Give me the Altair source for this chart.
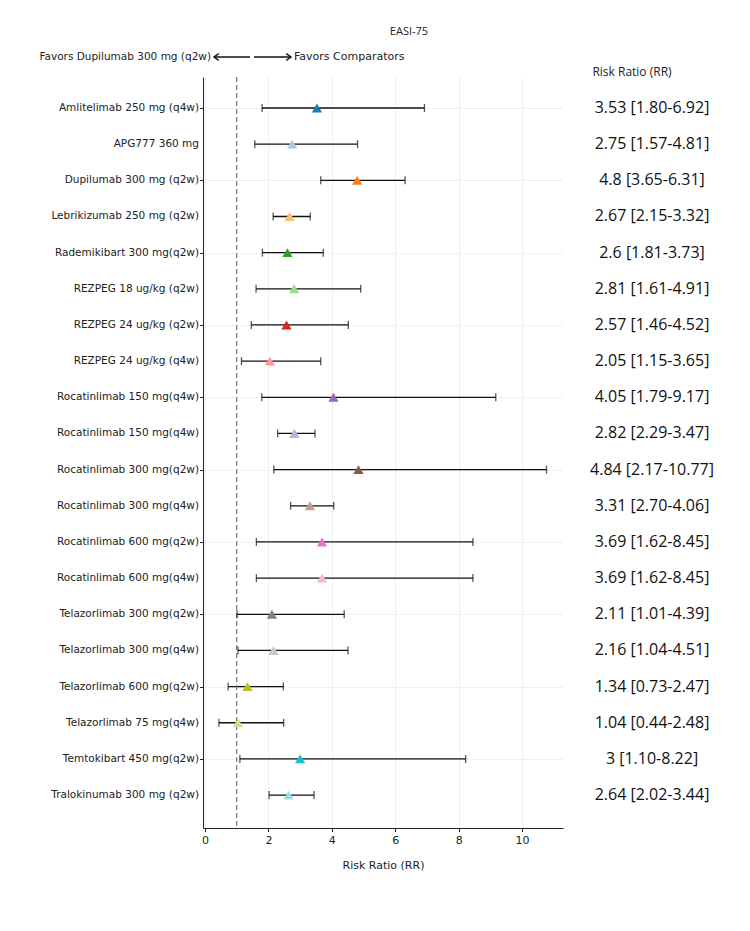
import altair as alt
import pandas as pd

# Treatments compared against Dupilumab 300 mg (q2w), EASI-75 response
treatments = [
    "Amlitelimab 250 mg (q4w)",
    "APG777 360 mg",
    "Dupilumab 300 mg (q2w)",
    "Lebrikizumab 250 mg (q2w)",
    "Rademikibart 300 mg(q2w)",
    "REZPEG 18 ug/kg (q2w)",
    "REZPEG 24 ug/kg (q2w)",
    "REZPEG 24 ug/kg  (q4w)",
    "Rocatinlimab 150 mg(q4w)",
    "Rocatinlimab 150 mg(q4w)",
    "Rocatinlimab 300 mg(q2w)",
    "Rocatinlimab 300 mg(q4w)",
    "Rocatinlimab 600 mg(q2w)",
    "Rocatinlimab 600 mg(q4w)",
    "Telazorlimab 300 mg(q2w)",
    "Telazorlimab 300 mg(q4w)",
    "Telazorlimab 600 mg(q2w)",
    "Telazorlimab 75 mg(q4w)",
    "Temtokibart 450 mg(q2w)",
    "Tralokinumab 300 mg (q2w)",
]
risk_ratio = [3.53, 2.75, 4.8, 2.67, 2.6, 2.81, 2.57, 2.05, 4.05, 2.82,
              4.84, 3.31, 3.69, 3.69, 2.11, 2.16, 1.34, 1.04, 3, 2.64]
ci_low = [1.80, 1.57, 3.65, 2.15, 1.81, 1.61, 1.46, 1.15, 1.79, 2.29,
          2.17, 2.70, 1.62, 1.62, 1.01, 1.04, 0.73, 0.44, 1.10, 2.02]
ci_high = [6.92, 4.81, 6.31, 3.32, 3.73, 4.91, 4.52, 3.65, 9.17, 3.47,
           10.77, 4.06, 8.45, 8.45, 4.39, 4.51, 2.47, 2.48, 8.22, 3.44]
marker_colors = ["#1f77b4", "#aec7e8", "#ff7f0e", "#ffbb78", "#2ca02c",
                 "#98df8a", "#d62728", "#ff9896", "#9467bd", "#c5b0d5",
                 "#8c564b", "#c49c94", "#e377c2", "#f7b6d2", "#7f7f7f",
                 "#c7c7c7", "#bcbd22", "#dbdb8d", "#17becf", "#9edae5"]
x_ticks = [0, 2, 4, 6, 8, 10]
no_effect = 1.0

W, H = 360, 751
tick_font = "DejaVu Sans"
side_font = "Open Sans"

df = pd.DataFrame({
    "idx": list(range(len(treatments))),
    "name": treatments,
    "rr": risk_ratio,
    "lo": ci_low,
    "hi": ci_high,
    "color": marker_colors,
})
df["summary"] = [f"{r:g} [{l:.2f}-{h:.2f}]" for r, l, h in zip(risk_ratio, ci_low, ci_high)]

x_scale = alt.Scale(domain=[-0.063, 11.29], nice=False, zero=False)
y_scale = alt.Scale(domain=[-0.857, 19.91], nice=False, zero=False, reverse=True)

x_axis = alt.Axis(
    values=x_ticks, title="Risk Ratio (RR)", titleFont=tick_font, titleFontSize=11,
    titleFontWeight="normal", titleColor="#222", titlePadding=14,
    labelFont=tick_font, labelFontSize=11, labelColor="#222", labelPadding=3,
    tickSize=3.5, tickColor="#222", domainColor="#222", domainWidth=1,
    grid=True, gridColor="#d9d9d9", gridDash=[2, 2], gridWidth=0.8,
)
# row names are drawn as a text layer; the axis keeps ticks, spine and grid
y_axis = alt.Axis(
    values=list(range(len(treatments))), title=None, labels=False,
    tickSize=3.5, tickColor="#222", domainColor="#222", domainWidth=1,
    grid=True, gridColor="#d9d9d9", gridDash=[2, 2], gridWidth=0.8,
)

base = alt.Chart(df)

whiskers = base.mark_rule(color="#111", strokeWidth=1.3).encode(
    x=alt.X("lo:Q", scale=x_scale, axis=x_axis),
    x2="hi:Q",
    y=alt.Y("idx:Q", scale=y_scale, axis=y_axis),
)
cap_lo = base.mark_tick(color="#111", orient="vertical", size=8, thickness=1.3).encode(
    x=alt.X("lo:Q", scale=x_scale), y=alt.Y("idx:Q", scale=y_scale))
cap_hi = base.mark_tick(color="#111", orient="vertical", size=8, thickness=1.3).encode(
    x=alt.X("hi:Q", scale=x_scale), y=alt.Y("idx:Q", scale=y_scale))

ref_line = alt.Chart(pd.DataFrame({"ref": [no_effect]})).mark_rule(
    color="#777", strokeDash=[5, 3], strokeWidth=1.2
).encode(x=alt.X("ref:Q", scale=x_scale))

markers = base.mark_point(shape="triangle-up", filled=True, opacity=1, size=105).encode(
    x=alt.X("rr:Q", scale=x_scale),
    y=alt.Y("idx:Q", scale=y_scale),
    color=alt.Color("color:N", scale=None, legend=None),
)

row_names = base.mark_text(font=tick_font, fontSize=10.5, color="#222", align="right",
                           baseline="middle").encode(
    x=alt.value(-4),
    y=alt.Y("idx:Q", scale=y_scale),
    text="name:N",
)

summaries = base.mark_text(font=side_font, fontSize=16, color="#111", align="center",
                           baseline="middle").encode(
    x=alt.value(449),
    y=alt.Y("idx:Q", scale=y_scale),
    text="summary:N",
)


def label(text, x, y, align="center", font=tick_font, size=11):
    return alt.Chart(pd.DataFrame({"t": [text]})).mark_text(
        font=font, fontSize=size, color="#222", align=align, baseline="middle"
    ).encode(x=alt.value(x), y=alt.value(y), text="t:N")


title = label("EASI-75", 206, -45, font=side_font, size=11)
col_head = label("Risk Ratio (RR)", 429, -5, font=side_font, size=12)
left_note = label("Favors Dupilumab 300 mg (q2w)", 8, -20, align="right", size=10.5)
right_note = label("Favors Comparators", 91, -20, align="left", size=11)

one_row = pd.DataFrame({"a": [0]})
left_shaft = alt.Chart(one_row).mark_rule(color="#111", strokeWidth=1.4).encode(
    x=alt.value(11), x2=alt.value(47), y=alt.value(-20))
right_shaft = alt.Chart(one_row).mark_rule(color="#111", strokeWidth=1.4).encode(
    x=alt.value(51), x2=alt.value(88), y=alt.value(-20))
left_head = alt.Chart(one_row).mark_point(
    shape="M1,-0.7L0,0L1,0.7", filled=False, color="#111", strokeWidth=1.4, size=90, opacity=1
).encode(x=alt.value(11), y=alt.value(-20))
right_head = alt.Chart(one_row).mark_point(
    shape="M-1,-0.7L0,0L-1,0.7", filled=False, color="#111", strokeWidth=1.4, size=90, opacity=1
).encode(x=alt.value(88), y=alt.value(-20))

chart = alt.layer(
    whiskers, ref_line, cap_lo, cap_hi, markers, row_names, summaries,
    title, col_head, left_note, right_note,
    left_shaft, right_shaft, left_head, right_head,
).properties(
    width=W, height=H,
    padding={"left": 203, "top": 77, "right": 187, "bottom": 103},
    autosize=alt.AutoSizeParams(type="none"),
).configure_view(stroke=None)

chart.save("out.html", embed_options={"renderer": "svg", "actions": False})
